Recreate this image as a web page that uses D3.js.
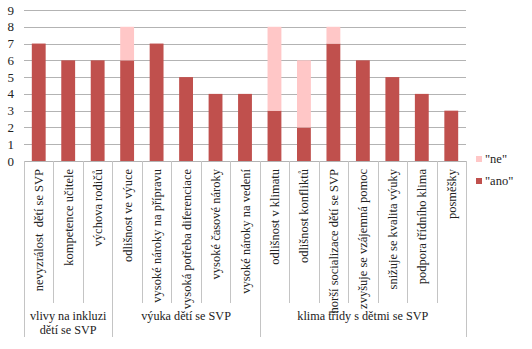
<!DOCTYPE html>
<html>
<head>
<meta charset="utf-8">
<script src="https://cdn.jsdelivr.net/npm/d3@7"></script>
<style>
    body { margin: 0; background: #fff; }
    svg text { font-family: 'Liberation Serif', 'Times New Roman', Times, 'DejaVu Serif', serif; white-space: pre; }
</style>
</head>
<body>
<div id="chart"></div>
<script>
    // categories and counts
    var categories = [
        "nevyzrálost  dětí se SVP", "kompetence učitele", "výchova rodičů",
        "odlišnost ve výuce", "vysoké nároky na přípravu", "vysoká potřeba diferenciace",
        "vysoké časové nároky", "vysoké nároky na vedení",
        "odlišnost v klimatu", "odlišnost konfliktů", "horší socializace dětí se SVP",
        "zvyšuje se vzájemná pomoc", "snižuje se kvalita výuky", "podpora třídního klima", "posměšky"
    ];
    var ano = [7, 6, 6, 6, 7, 5, 4, 4, 3, 2, 7, 6, 5, 4, 3];
    var ne  = [0, 0, 0, 2, 0, 0, 0, 0, 5, 4, 1, 0, 0, 0, 0];
    var groups = [
        { lines: ["vlivy na inkluzi", "dětí se SVP"], from: 0, to: 2 },
        { lines: ["výuka dětí se SVP"], from: 3, to: 7 },
        { lines: ["klima třídy s dětmi se SVP"], from: 8, to: 14 }
    ];
    var yTicks = [0, 1, 2, 3, 4, 5, 6, 7, 8, 9];

    var width = 532, height = 349;
    var plotLeft = 24, plotRight = 466, plotTop = 10, plotBase = 161;

    var svg = d3.select('#chart').append('svg')
        .attr('width', width)
        .attr('height', height)
        .style('fill', '#222');

    var x = d3.scaleBand()
        .domain(d3.range(categories.length))
        .range([plotLeft, plotRight])
        .paddingInner(0.53)
        .paddingOuter(0.265);

    var y = d3.scaleLinear()
        .domain([0, 9])
        .range([plotBase, plotTop]);

    // horizontal grid
    svg.selectAll('line.grid')
        .data(yTicks.slice(1))
        .enter().append('line')
        .attr('class', 'grid')
        .attr('x1', plotLeft).attr('x2', plotRight)
        .attr('y1', d => Math.round(y(d)) + 0.5).attr('y2', d => Math.round(y(d)) + 0.5)
        .attr('stroke', '#b3b3b3');

    // y labels
    svg.selectAll('text.ytick')
        .data(yTicks)
        .enter().append('text')
        .attr('class', 'ytick')
        .attr('x', 14)
        .attr('y', d => y(d) + 4.5)
        .attr('text-anchor', 'end')
        .attr('font-size', 13)
        .text(d => d);

    // stacked bars
    var stack = categories.map((c, i) => ({ i: i, ano: ano[i], ne: ne[i] }));

    svg.selectAll('rect.ano')
        .data(stack)
        .enter().append('rect')
        .attr('class', 'ano')
        .attr('x', d => x(d.i))
        .attr('width', x.bandwidth())
        .attr('y', d => y(d.ano))
        .attr('height', d => y(0) - y(d.ano))
        .style('fill', '#c0504d');

    svg.selectAll('rect.ne')
        .data(stack.filter(d => d.ne > 0))
        .enter().append('rect')
        .attr('class', 'ne')
        .attr('x', d => x(d.i))
        .attr('width', x.bandwidth())
        .attr('y', d => y(d.ano + d.ne))
        .attr('height', d => y(d.ano) - y(d.ano + d.ne))
        .style('fill', '#ffc7c7');

    // category axis
    var band = (plotRight - plotLeft) / categories.length;
    var edge = i => plotLeft + i * band;

    svg.append('line')
        .attr('x1', plotLeft).attr('x2', plotRight)
        .attr('y1', plotBase + 0.5).attr('y2', plotBase + 0.5)
        .attr('stroke', '#b3b3b3');

    var groupEdges = [0];
    groups.forEach(g => groupEdges.push(g.to + 1));

    svg.selectAll('line.sep')
        .data(d3.range(categories.length + 1))
        .enter().append('line')
        .attr('class', 'sep')
        .attr('x1', d => Math.round(edge(d)) + 0.5).attr('x2', d => Math.round(edge(d)) + 0.5)
        .attr('y1', plotBase)
        .attr('y2', d => groupEdges.indexOf(d) >= 0 ? 337 : 303)
        .attr('stroke', '#c4c4c4');

    // rotated category labels
    svg.selectAll('text.cat')
        .data(categories)
        .enter().append('text')
        .attr('class', 'cat')
        .attr('text-anchor', 'end')
        .attr('font-size', 12.5)
        .attr('transform', (d, i) => 'translate(' + (edge(i) + band / 2 + 4.5) + ',169) rotate(-90)')
        .text(d => d);

    // group labels
    groups.forEach(g => {
        var cx = (edge(g.from) + edge(g.to + 1)) / 2;
        g.lines.forEach((t, k) => {
            svg.append('text')
                .attr('x', cx)
                .attr('y', 320 + k * 14)
                .attr('text-anchor', 'middle')
                .attr('font-size', 12.2)
                .text(t);
        });
    });

    // legend
    var legend = [{ name: '"ne"', color: '#ffc7c7' }, { name: '"ano"', color: '#c0504d' }];
    var lg = svg.selectAll('g.legend')
        .data(legend)
        .enter().append('g')
        .attr('class', 'legend')
        .attr('transform', (d, i) => 'translate(476,' + (156 + i * 22) + ')');
    lg.append('rect')
        .attr('width', 6).attr('height', 6)
        .style('fill', d => d.color);
    lg.append('text')
        .attr('x', 9).attr('y', 7)
        .attr('font-size', 12.5)
        .text(d => d.name);
</script>
</body>
</html>
